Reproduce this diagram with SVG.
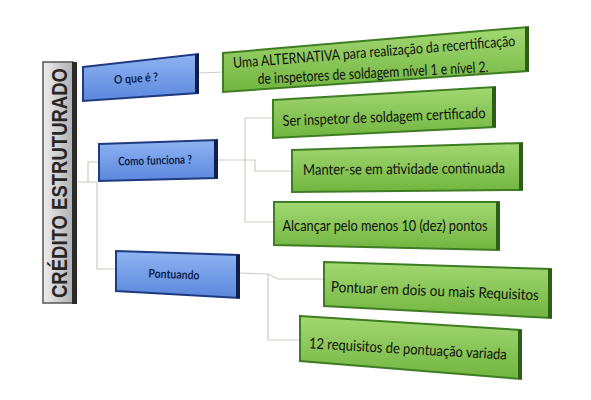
<svg xmlns="http://www.w3.org/2000/svg" width="591" height="400" viewBox="0 0 591 400">
<defs>
<linearGradient id="gGreen" x1="0" y1="0" x2="0" y2="1">
<stop offset="0" stop-color="#a2d872"/><stop offset="1" stop-color="#72b540"/>
</linearGradient>
<linearGradient id="gBlue" x1="0" y1="0" x2="0" y2="1">
<stop offset="0" stop-color="#8fb4f2"/><stop offset="1" stop-color="#5b87dc"/>
</linearGradient>
<linearGradient id="gGray" x1="0" y1="0" x2="1" y2="0">
<stop offset="0" stop-color="#eeeeee"/><stop offset="1" stop-color="#b0b0b0"/>
</linearGradient>
<style>
.green{fill:url(#gGreen);stroke:#3f7d22;stroke-width:2}
.gedge{fill:none;stroke:#2e5f16;stroke-width:4}
.blue{fill:url(#gBlue);stroke:#1e3a80;stroke-width:2}
.bedge{fill:none;stroke:#0f1f4a;stroke-width:4}
.gt{font-family:Lato,"Open Sans","Liberation Sans",sans-serif;font-size:15px;fill:#111;text-anchor:middle;dominant-baseline:central}
.bt{font-family:Lato,"Open Sans","Liberation Sans",sans-serif;font-size:12px;font-weight:bold;fill:#0d1f4d;text-anchor:middle;dominant-baseline:central}
.conn{fill:none;stroke:#c9cfc4;stroke-width:1.2}
</style>
</defs>
<rect width="591" height="400" fill="#ffffff"/>
<g id="connectors">
<path class="conn" d="M198,73 L223,72"/>
<path class="conn" d="M77,182 H97 M88,182 V162 H99 M97,182 V269 H116"/>
<path class="conn" d="M217,160 H245 M245,118 V222 M245,118 H273 M245,160 H255 V171 H292 M245,222 H274"/>
<path class="conn" d="M239,273 L268,274 L278,279 H324 M268,274 V340 H300"/>
</g>
<g id="title">
<rect x="43" y="62" width="30" height="241" fill="url(#gGray)" stroke="#555" stroke-width="1.5"/>
<rect x="72" y="62" width="5" height="242" fill="#2b2b2b"/>
<text transform="translate(59,183) rotate(-90)" font-family="'Liberation Sans',Arial,sans-serif" font-size="22" font-weight="bold" fill="#262626" text-anchor="middle" dominant-baseline="central" textLength="230" lengthAdjust="spacingAndGlyphs">CRÉDITO ESTRUTURADO</text>
</g>
<g id="n-oque">
<polygon class="blue" points="83,67 198,54 198,93 83,101"/>
<path class="bedge" d="M197,54 V93"/>
<text class="bt" transform="translate(136,78) rotate(-4)" textLength="44" lengthAdjust="spacingAndGlyphs">O que é ?</text>
</g>
<g id="n-como">
<polygon class="blue" points="99,144 217,140 217,178 99,181"/>
<path class="bedge" d="M216,140 V178"/>
<text class="bt" transform="translate(155,160) rotate(-1.5)" textLength="74" lengthAdjust="spacingAndGlyphs">Como funciona ?</text>
</g>
<g id="n-pont">
<polygon class="blue" points="116,251 239,255 239,298 116,291"/>
<path class="bedge" d="M238,255 V298"/>
<text class="bt" transform="translate(174,274) rotate(2)" textLength="51" lengthAdjust="spacingAndGlyphs">Pontuando</text>
</g>
<g id="n-alt">
<polygon class="green" points="223,53 528,27 528,71 223,92"/>
<path class="gedge" d="M527,27 V71"/>
<text class="gt" font-size="14" transform="translate(374,51) rotate(-4.5)" textLength="283" lengthAdjust="spacingAndGlyphs">Uma ALTERNATIVA para realização da recertificação</text>
<text class="gt" font-size="14" transform="translate(373,72) rotate(-3)" textLength="231" lengthAdjust="spacingAndGlyphs">de inspetores de soldagem nível 1 e nível 2.</text>
</g>
<g id="n-ser">
<polygon class="green" points="273,100 495,87 495,127 273,138"/>
<path class="gedge" d="M494,87 V127"/>
<text class="gt" transform="translate(384,116) rotate(-2.3)" textLength="203" lengthAdjust="spacingAndGlyphs">Ser inspetor de soldagem certificado</text>
</g>
<g id="n-manter">
<polygon class="green" points="292,150 522,143 522,190 292,192"/>
<path class="gedge" d="M521,143 V190"/>
<text class="gt" transform="translate(404,168) rotate(-0.5)" textLength="202" lengthAdjust="spacingAndGlyphs">Manter-se em atividade continuada</text>
</g>
<g id="n-alcancar">
<polygon class="green" points="274,202 499,202 499,250 274,245"/>
<path class="gedge" d="M498,202 V250"/>
<text class="gt" transform="translate(385,225)" textLength="205" lengthAdjust="spacingAndGlyphs">Alcançar pelo menos 10 (dez) pontos</text>
</g>
<g id="n-pontuar">
<polygon class="green" points="324,262 551,269 551,318 324,306"/>
<path class="gedge" d="M550,269 V318"/>
<text class="gt" transform="translate(435,290) rotate(2.3)" textLength="208" lengthAdjust="spacingAndGlyphs">Pontuar em dois ou mais Requisitos</text>
</g>
<g id="n-12req">
<polygon class="green" points="300,316 521,330 521,379 300,361"/>
<path class="gedge" d="M520,330 V379"/>
<text class="gt" transform="translate(408,348) rotate(3.3)" textLength="198" lengthAdjust="spacingAndGlyphs">12 requisitos de pontuação variada</text>
</g>
</svg>
